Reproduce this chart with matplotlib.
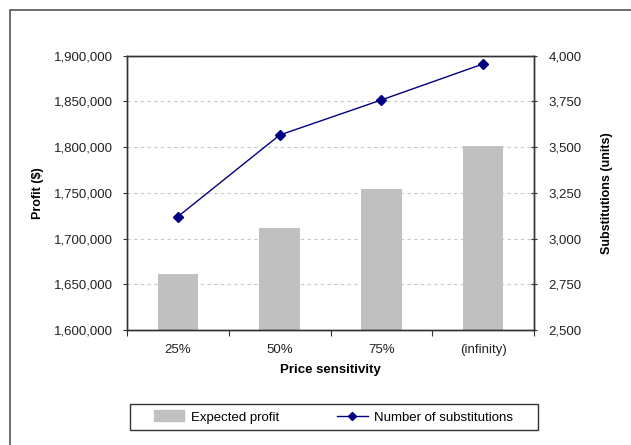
import matplotlib.pyplot as plt
import matplotlib.patches as mpatches
import numpy as np
from matplotlib.ticker import FuncFormatter

plt.rcParams['font.family'] = ['Liberation Sans', 'DejaVu Sans']

# Data
categories = ['25%', '50%', '75%', '(infinity)']
expected_profit = [1661000, 1712000, 1754500, 1801000]
substitutions = [3120, 3566, 3758, 3955]

fig = plt.figure(figsize=(6.31, 4.45), dpi=100)
W, H = 631, 445

# outer chart border (runs off the right and bottom edges)
fig.patches.append(mpatches.Rectangle((10 / W, -0.1), 1.2, (H - 10) / H + 0.1,
                                      transform=fig.transFigure, fill=False,
                                      edgecolor='#555555', linewidth=1.2))

ax = fig.add_axes([127 / W, 115 / H, (534 - 127) / W, (330 - 55.7) / H])
x = np.arange(len(categories))

ax.bar(x, expected_profit, width=0.4, color='#c0c0c0', zorder=2)
ax.set_ylim(1600000, 1900000)
ax.set_xlim(-0.5, len(categories) - 0.5)
ax.set_yticks(np.arange(1600000, 1900001, 50000))
ax.yaxis.set_major_formatter(FuncFormatter(lambda v, p: f'{int(v):,}'))
ax.grid(axis='y', linestyle=(0, (3, 3)), color='#c8c8c8', linewidth=0.8, zorder=0)

ax.set_xticks(np.arange(-0.5, len(categories), 1.0))
ax.set_xticklabels([])
ax.set_xticks(x, minor=True)
ax.set_xticklabels(categories, minor=True)
ax.tick_params(axis='both', which='both', labelsize=9.5, colors='#333333',
               labelcolor='#222222')
ax.tick_params(axis='x', which='minor', length=0, pad=10)
ax.tick_params(axis='x', which='major', length=4, direction='out')
ax.tick_params(axis='y', length=3, direction='out', pad=7)

ax.set_xlabel('Price sensitivity', fontsize=9.5, fontweight='bold', labelpad=6)
ax.set_ylabel('Profit ($)', fontsize=9, fontweight='bold', labelpad=7)

ax2 = ax.twinx()
ax2.plot(x, substitutions, color='#000080', marker='D', markersize=5, linewidth=1,
         zorder=3)
ax2.set_ylim(2500, 4000)
ax2.set_yticks(np.arange(2500, 4001, 250))
ax2.yaxis.set_major_formatter(FuncFormatter(lambda v, p: f'{int(v):,}'))
ax2.tick_params(axis='y', length=5, direction='inout', labelsize=9.5,
                colors='#333333', labelcolor='#222222', pad=8)
ax2.set_ylabel('Substitutions (units)', fontsize=9, fontweight='bold', labelpad=14)

for a in (ax, ax2):
    for s in a.spines.values():
        s.set_color('#333333')
        s.set_linewidth(1)

# legend box drawn as a rectangle, legend itself frameless inside it
fig.patches.append(mpatches.Rectangle((130 / W, 1 - 430 / H), (538 - 130) / W, 26 / H,
                                      transform=fig.transFigure, fill=False,
                                      edgecolor='#333333', linewidth=1))
handles = [mpatches.Patch(color='#c0c0c0'),
           plt.Line2D([], [], color='#000080', marker='D', markersize=4, linewidth=1)]
fig.legend(handles, ['Expected profit', 'Number of substitutions'],
           loc='center', bbox_to_anchor=(333.5 / W, 1 - 417 / H),
           ncol=2, fontsize=9.5, frameon=False, handlelength=2.3,
           columnspacing=4.4, handletextpad=0.5, handleheight=0.9)

fig.savefig('out.png', dpi=100)
plt.close(fig)
